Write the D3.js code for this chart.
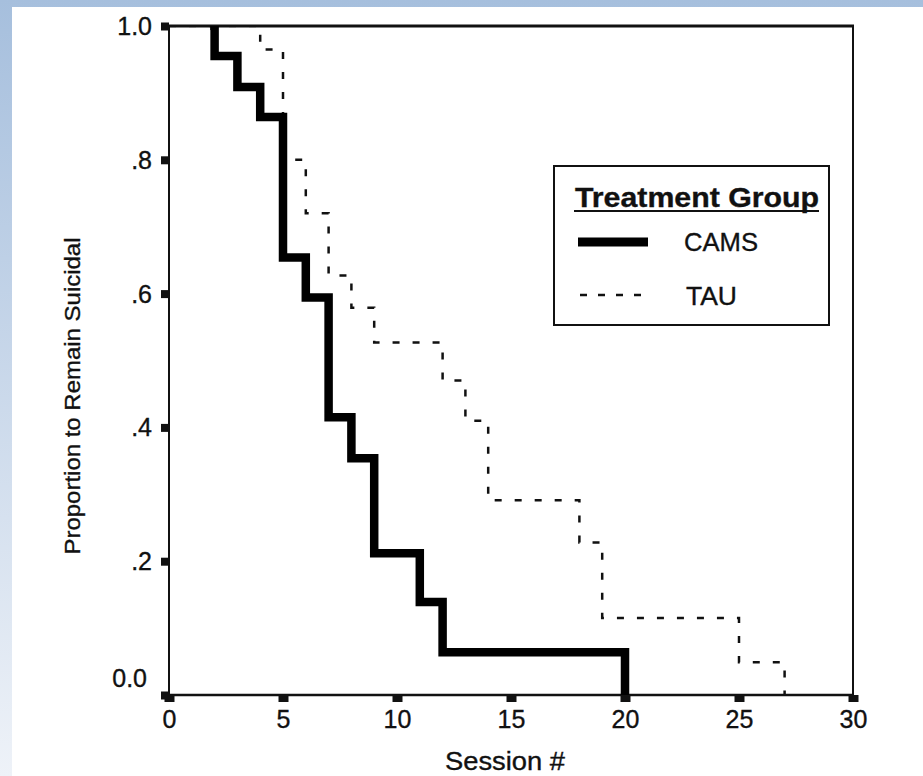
<!DOCTYPE html>
<html>
<head>
<meta charset="utf-8">
<script src="https://cdn.jsdelivr.net/npm/d3@7"></script>
<style>
  html, body { margin: 0; padding: 0; background: #fff; }
  svg { display: block; }
  text { font-family: Arial, "Liberation Sans", Helvetica, sans-serif; fill: #111; stroke: #111; stroke-width: 0.35px; }
</style>
</head>
<body>
<svg id="chart" width="923" height="776"></svg>
<script>
// ---- data ----
const camsSessions = [0, 2, 3, 4, 5, 6, 7, 8, 9, 11, 12, 20];
const camsValues   = [1.0, 0.955, 0.909, 0.864, 0.654, 0.594, 0.415, 0.354, 0.212, 0.139, 0.064, 0.0];
const tauSessions  = [0, 4, 5, 6, 7, 8, 9, 12, 13, 14, 18, 19, 25, 27];
const tauValues    = [1.0, 0.965, 0.80, 0.72, 0.627, 0.579, 0.527, 0.47, 0.41, 0.291, 0.228, 0.115, 0.049, 0.0];
const xTicks = [0, 5, 10, 15, 20, 25, 30];
const yTicks = [0, 0.2, 0.4, 0.6, 0.8, 1.0];
const yTickLabels = ["0.0", ".2", ".4", ".6", ".8", "1.0"];
const legendTitle = "Treatment Group";
const seriesNames = ["CAMS", "TAU"];
const xTitle = "Session #";
const yTitle = "Proportion to Remain Suicidal";

const svg = d3.select("#chart");
const W = 923, H = 776;

// background: blue gradient border on the left and top
const defs = svg.append("defs");
const grad = defs.append("linearGradient").attr("id", "bg").attr("x1", 0).attr("y1", 0).attr("x2", 0).attr("y2", 1);
grad.append("stop").attr("offset", "0%").attr("stop-color", "#a6bfdd");
grad.append("stop").attr("offset", "100%").attr("stop-color", "#eef2f8");
svg.append("rect").attr("width", W).attr("height", H).attr("fill", "url(#bg)");
svg.append("rect").attr("x", 12).attr("y", 7).attr("width", W - 12).attr("height", H - 7).attr("fill", "#fff");

// scales
const x = d3.scaleLinear().domain([0, 30]).range([169, 853]);
const y = d3.scaleLinear().domain([0, 1]).range([695, 26]);

defs.append("clipPath").attr("id", "plotclip")
  .append("rect").attr("x", x(0)).attr("y", y(1) + 1.5).attr("width", x(30) - x(0)).attr("height", y(0) - y(1) + 4);
const tc = defs.append("clipPath").attr("id", "thickclip");
tc.append("rect").attr("x", x(0)).attr("y", y(1) + 5).attr("width", x(30) - x(0)).attr("height", y(0) - y(1) + 4);
tc.append("rect").attr("x", x(camsSessions[1]) - 4.5).attr("y", y(1)).attr("width", x(30) - x(camsSessions[1]) + 4.5).attr("height", 10);

// frame
svg.append("line").attr("x1", x(0) - 8).attr("x2", x(30) + 1).attr("y1", y(1)).attr("y2", y(1))
  .attr("stroke", "#111").attr("stroke-width", 3);
svg.append("line").attr("x1", x(30)).attr("x2", x(30)).attr("y1", y(1)).attr("y2", y(0))
  .attr("stroke", "#111").attr("stroke-width", 2);

// axes
const xAxis = d3.axisBottom(x).tickValues(xTicks).tickSize(7).tickPadding(8).tickFormat(d3.format("d"));
const gx = svg.append("g").attr("transform", `translate(0,${y(0)})`).call(xAxis);
gx.select(".domain").attr("stroke", "#111").attr("stroke-width", 2.5).attr("d", `M${x(0) - 6},0H${x(30) + 1}`);
gx.selectAll(".tick line").attr("stroke", "#111").attr("stroke-width", 10);
gx.selectAll(".tick text").attr("font-size", 25).attr("fill", "#111")
  .style("font-family", "Arial, 'Liberation Sans', sans-serif");

const yAxis = d3.axisLeft(y).tickValues(yTicks).tickSize(8).tickPadding(11)
  .tickFormat((d, i) => yTickLabels[i]);
const gy = svg.append("g").attr("transform", `translate(${x(0)},0)`).call(yAxis);
gy.select(".domain").attr("stroke", "#111").attr("stroke-width", 2).attr("d", `M0,${y(1)}V${y(0)}`);
gy.selectAll(".tick line").attr("stroke", "#111").attr("stroke-width", 8);
gy.selectAll(".tick text").attr("font-size", 25).attr("fill", "#111")
  .style("font-family", "Arial, 'Liberation Sans', sans-serif")
  .attr("dy", (d) => d === 0 ? "-0.35em" : "0.34em")
  .attr("x", (d) => d === 0 ? -22 : -17);

// axis titles
svg.append("text").attr("x", 505).attr("y", 770).attr("text-anchor", "middle")
  .attr("font-size", 25).attr("textLength", 120).attr("lengthAdjust", "spacingAndGlyphs").text(xTitle);
svg.append("text").attr("transform", "translate(80,396) rotate(-90)").attr("text-anchor", "middle")
  .attr("font-size", 22).attr("textLength", 317).attr("lengthAdjust", "spacingAndGlyphs").text(yTitle);

// survival step curves
const step = d3.line().x(d => x(d[0])).y(d => y(d[1])).curve(d3.curveStepAfter);
const cams = camsSessions.map((s, i) => [s, camsValues[i]]);
const tau = tauSessions.map((s, i) => [s, tauValues[i]]);

svg.append("g").attr("clip-path", "url(#plotclip)")
  .append("path").datum(tau).attr("d", step).attr("fill", "none")
  .attr("stroke", "#111").attr("stroke-width", 2.5).attr("stroke-dasharray", "7,13");
svg.append("g").attr("clip-path", "url(#thickclip)")
  .append("path").datum(cams).attr("d", step).attr("fill", "none")
  .attr("stroke", "#000").attr("stroke-width", 8.5).attr("stroke-linejoin", "miter").attr("stroke-linecap", "butt");

// legend
const lg = svg.append("g");
lg.append("rect").attr("x", 554).attr("y", 166).attr("width", 275).attr("height", 159)
  .attr("fill", "#fff").attr("stroke", "#111").attr("stroke-width", 2);
lg.append("text").attr("x", 575).attr("y", 207).attr("font-size", 27).attr("font-weight", "bold")
  .attr("textLength", 244).attr("lengthAdjust", "spacingAndGlyphs").text(legendTitle);
lg.append("line").attr("x1", 574).attr("x2", 819).attr("y1", 211).attr("y2", 211)
  .attr("stroke", "#111").attr("stroke-width", 2);
lg.append("line").attr("x1", 578).attr("x2", 648).attr("y1", 242).attr("y2", 242)
  .attr("stroke", "#000").attr("stroke-width", 9);
lg.append("text").attr("x", 684).attr("y", 251).attr("font-size", 26)
  .attr("textLength", 74).attr("lengthAdjust", "spacingAndGlyphs").text(seriesNames[0]);
lg.append("line").attr("x1", 580).attr("x2", 650).attr("y1", 295).attr("y2", 295)
  .attr("stroke", "#111").attr("stroke-width", 2.5).attr("stroke-dasharray", "7,11");
lg.append("text").attr("x", 686).attr("y", 305).attr("font-size", 26)
  .attr("textLength", 51).attr("lengthAdjust", "spacingAndGlyphs").text(seriesNames[1]);
</script>
</body>
</html>
